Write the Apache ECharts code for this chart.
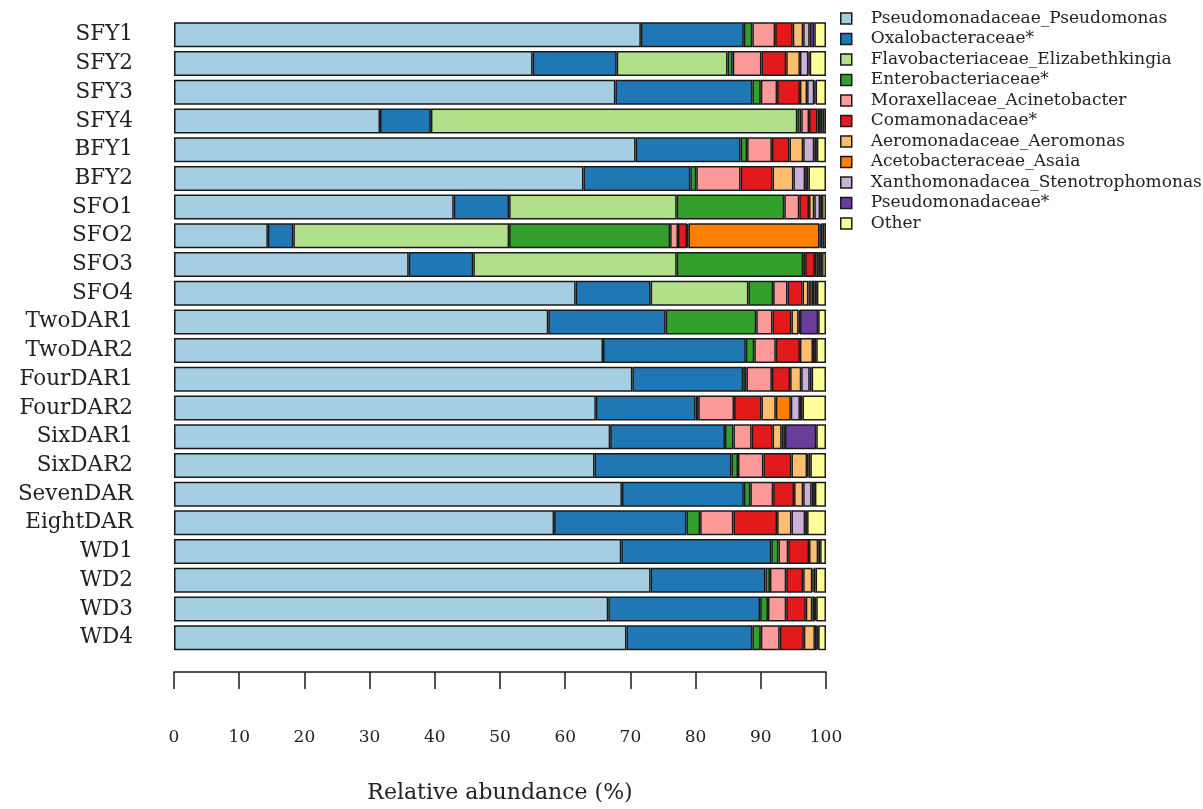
<!DOCTYPE html>
<html>
<head>
<meta charset="utf-8">
<title>Relative abundance</title>
<script src="https://cdn.jsdelivr.net/npm/echarts@6/dist/echarts.min.js"></script>
<style>
  html, body { margin: 0; padding: 0; background: #ffffff; }
  #chart { width: 1203px; height: 809px; }
</style>
</head>
<body>
<div id="chart"></div>
<script>
// Samples, top to bottom
const samples = ['SFY1','SFY2','SFY3','SFY4','BFY1','BFY2','SFO1','SFO2','SFO3','SFO4',
  'TwoDAR1','TwoDAR2','FourDAR1','FourDAR2','SixDAR1','SixDAR2','SevenDAR','EightDAR',
  'WD1','WD2','WD3','WD4'];

// Taxa (legend order)
const taxa = ['Pseudomonadaceae_Pseudomonas','Oxalobacteraceae*','Flavobacteriaceae_Elizabethkingia',
  'Enterobacteriaceae*','Moraxellaceae_Acinetobacter','Comamonadaceae*','Aeromonadaceae_Aeromonas',
  'Acetobacteraceae_Asaia','Xanthomonadacea_Stenotrophomonas','Pseudomonadaceae*','Other'];

const taxaColors = ['#a6cee3','#1f78b4','#b2df8a','#33a02c','#fb9a99','#e31a1c','#fdbf6f',
  '#ff7f00','#cab2d6','#6a3d9a','#ffff99'];

// Relative abundance (%) per taxon, one value per sample (same order as samples)
const pseudomonas     = [71.6,55.0,67.7,31.6,70.8,62.8,42.9,14.4,36.0,61.6,57.4,65.8,70.3,64.7,66.9,64.5,68.7,58.3,68.6,73.1,66.6,69.4];
const oxalobacter     = [15.8,12.9,21.0, 7.8,16.1,16.4, 8.5, 3.9, 9.9,11.5,18.0,21.9,17.0,15.3,17.6,21.0,18.7,20.3,23.0,17.6,23.3,19.3];
const elizabethkingia = [ 0.0,17.0, 0.0,56.2, 0.0, 0.0,25.7,33.1,31.2,15.0, 0.0, 0.0, 0.0, 0.0, 0.0, 0.0, 0.0, 0.0, 0.0, 0.0, 0.0, 0.0];
const enterobacter    = [ 1.3, 0.8, 1.3, 0.6, 1.0, 0.9,16.5,24.7,19.4, 3.8,13.9, 1.3, 0.5, 0.4, 1.3, 1.0, 1.0, 2.1, 1.1, 0.7, 1.2, 1.3];
const acinetobacter   = [ 3.5, 4.4, 2.5, 1.2, 3.8, 6.8, 2.3, 1.2, 0.3, 2.2, 2.5, 3.3, 3.9, 5.5, 2.8, 3.9, 3.5, 5.1, 1.5, 2.5, 2.8, 2.9];
const comamonas       = [ 2.7, 3.8, 3.5, 1.3, 2.7, 4.9, 1.5, 1.4, 1.5, 2.3, 2.9, 3.7, 2.8, 4.2, 3.2, 4.3, 3.2, 6.7, 3.2, 2.6, 3.0, 3.7];
const aeromonas       = [ 1.6, 2.1, 1.1, 0.4, 2.1, 3.2, 0.8, 0.2, 0.5, 0.9, 1.1, 2.0, 1.7, 2.2, 1.4, 2.4, 1.4, 2.2, 1.4, 1.4, 1.0, 1.7];
const asaia           = [ 0.0, 0.0, 0.0, 0.0, 0.0, 0.0, 0.0,20.1, 0.0, 0.5, 0.0, 0.0, 0.0, 2.3, 0.0, 0.0, 0.0, 0.0, 0.0, 0.0, 0.0, 0.0];
const stenotrophomonas= [ 1.0, 1.3, 1.1, 0.4, 1.7, 1.8, 0.9, 0.2, 0.3, 0.4, 0.2, 0.0, 1.3, 1.4, 0.5, 0.2, 1.3, 2.1, 0.0, 0.2, 0.4, 0.3];
const pseudomonadaceae= [ 0.7, 0.2, 0.2, 0.0, 0.4, 0.5, 0.3, 0.3, 0.3, 0.4, 2.8, 0.5, 0.3, 0.4, 4.8, 0.3, 0.5, 0.3, 0.3, 0.3, 0.2, 0.2];
const other           = [ 1.8, 2.5, 1.6, 0.5, 1.4, 2.7, 0.6, 0.5, 0.6, 1.4, 1.2, 1.5, 2.2, 3.6, 1.5, 2.4, 1.7, 2.9, 0.9, 1.6, 1.5, 1.2];

const taxaValues = [pseudomonas, oxalobacter, elizabethkingia, enterobacter, acinetobacter,
  comamonas, aeromonas, asaia, stenotrophomonas, pseudomonadaceae, other];

// X axis ticks
const xTicks = [0,10,20,30,40,50,60,70,80,90,100];

const serif = 'DejaVu Serif';
const ink = '#1a1a1a';

const series = taxa.map((name, i) => ({
  name: name,
  type: 'bar',
  stack: 'total',
  barWidth: 25,
  itemStyle: { color: taxaColors[i], borderColor: ink, borderWidth: 1.5 },
  emphasis: { disabled: true },
  data: taxaValues[i].map(v => (v > 0 ? v : null))
}));

const chart = echarts.init(document.getElementById('chart'), null, { renderer: 'canvas' });
chart.setOption({
  backgroundColor: '#ffffff',
  animation: false,
  color: taxaColors,
  grid: { left: 174, width: 652, top: 20.5, height: 644, containLabel: false },
  legend: {
    orient: 'vertical',
    left: 835,
    top: 5,
    icon: 'rect',
    itemWidth: 11,
    itemHeight: 11,
    itemGap: 3.5,
    itemStyle: { borderColor: ink, borderWidth: 1.5 },
    textStyle: { fontFamily: serif, fontSize: 17, color: '#222', padding: [0, 0, 0, 14] },
    data: taxa
  },
  xAxis: {
    type: 'value',
    min: xTicks[0],
    max: xTicks[xTicks.length - 1],
    interval: xTicks[1] - xTicks[0],
    position: 'bottom',
    offset: 20,
    axisLine: { show: true, lineStyle: { color: ink, width: 1.5 } },
    axisTick: { show: true, length: 17, lineStyle: { color: ink, width: 1.5 } },
    axisLabel: { margin: 57, fontFamily: serif, fontSize: 17, color: '#222' },
    splitLine: { show: false },
    name: 'Relative abundance (%)',
    nameLocation: 'middle',
    nameGap: 110,
    nameTextStyle: { fontFamily: serif, fontSize: 22, color: '#222' }
  },
  yAxis: {
    type: 'category',
    inverse: true,
    data: samples,
    axisLine: { show: false },
    axisTick: { show: false },
    axisLabel: { interval: 0, margin: 41, fontFamily: serif, fontSize: 21.5, color: '#222' }
  },
  series: series
});
</script>
</body>
</html>
